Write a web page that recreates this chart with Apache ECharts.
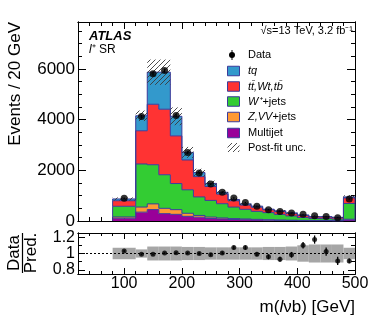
<!DOCTYPE html>
<html><head><meta charset="utf-8">
<script src="https://cdn.jsdelivr.net/npm/echarts@6/dist/echarts.min.js"></script>
<style>html,body{margin:0;padding:0;background:#fff}#c{width:374px;height:316px}</style>
</head><body><div id="c"></div>
<script>
// ---- data ----
const binEdges = [80,120,140,160,180,200,220,240,260,280,300,320,340,360,380,400,420,440,460,480,500];
const multijet = [110,350,450,290,263,184,150,100,80,60,50,40,32,25,20,15,12,12,10,40];
const zvv      = [50,200,225,210,185,120,70,55,40,35,30,25,18,15,12,10,8,8,6,30];
const wjets    = [420,1700,1545,1325,1030,927,730,657,562,454,380,315,280,220,168,115,80,75,60,620];
const ttbar    = [220,1310,2385,2585,1880,1177,800,550,380,250,170,165,113,113,97,80,60,65,58,220];
const tq       = [70,590,1265,1460,772,298,160,120,70,50,46,41,23,30,23,19,14,14,12,40];
const dataVals = [895,4120,5810,5935,4160,2700,1895,1455,1137,910,725,582,447,375,315,263,204,178,133,865];
const dataErr  = [30,64,76,77,64,52,44,38,34,30,27,24,21,19,18,16,14,13,12,29];
const ratioVals= [1.03,0.99,0.99,1.005,1.008,1.005,1.0,0.984,1.005,1.072,1.072,0.99,0.96,0.93,0.984,1.10,1.17,1.024,0.91,0.91];
const ratioErr = [0.012,0.01,0.01,0.01,0.01,0.012,0.014,0.016,0.018,0.022,0.025,0.025,0.03,0.03,0.035,0.04,0.05,0.05,0.05,0.03];
const uncRel   = [0.07,0.05,0.085,0.085,0.085,0.08,0.08,0.075,0.075,0.075,0.075,0.075,0.08,0.08,0.085,0.1,0.11,0.11,0.11,0.07];
const xMajorTicks = [100,200,300,400,500];
const xMinorTicks = [40,60,80,120,140,160,180,220,240,260,280,320,340,360,380,420,440,460,480];
const yMainMajor = [0,2000,4000,6000];
const yMainMinor = [500,1000,1500,2500,3000,3500,4500,5000,5500,6500,7000,7500];
const yRatioMajor = [0.8,1,1.2];
const yRatioMinor = [0.9,1.1];

const comps = [multijet, zvv, wjets, ttbar, tq];
const compNames = ['Multijet','Z,VV+jets','W+jets','tt,Wt,tb','tq'];
const compColors = ['#990099','#ff9933','#33cc33','#ff3333','#3399cc'];
const outlineColor = '#3b3b9a';
const FONT = 'Liberation Sans, Arial, Helvetica, sans-serif';

const nBins = binEdges.length - 1;
const cum = [new Array(nBins).fill(0)];
comps.forEach((c,k)=>{ cum.push(cum[k].map((v,i)=>v + c[i])); });
const total = cum[comps.length];

// hatch pattern
const pc = document.createElement('canvas'); pc.width = 5; pc.height = 5;
const g = pc.getContext('2d'); g.strokeStyle = '#3a3a3a'; g.lineWidth = 0.9;
g.beginPath(); g.moveTo(0,5); g.lineTo(5,0); g.moveTo(-1,1); g.lineTo(1,-1); g.moveTo(4,6); g.lineTo(6,4); g.stroke();
const hatch = {image: pc, repeat: 'repeat'};

function stackItem(k){
  return function(params, api){
    const top=[], bot=[];
    for (let i=0;i<nBins;i++){
      const xa = api.coord([binEdges[i],0])[0], xb = api.coord([binEdges[i+1],0])[0];
      const yt = api.coord([binEdges[i],cum[k+1][i]])[1], yb = api.coord([binEdges[i],cum[k][i]])[1];
      top.push([xa,yt],[xb,yt]); bot.push([xa,yb],[xb,yb]);
    }
    const poly = top.concat(bot.slice().reverse());
    const outline = [bot[0]].concat(top, [bot[bot.length-1]]);
    return {type:'group', children:[
      {type:'polygon', z2:0, shape:{points:poly}, style:{fill:compColors[k], stroke:null}},
      {type:'polyline', z2:10, shape:{points:outline}, style:{fill:null, stroke:outlineColor, lineWidth:1}}
    ]};
  };
}
function rectItem(fillStyle, z2){
  return function(params, api){
    const p0 = api.coord([api.value(0), api.value(3)]);
    const p1 = api.coord([api.value(1), api.value(2)]);
    return {type:'rect', z2:z2, shape:{x:p0[0], y:p0[1], width:p1[0]-p0[0], height:p1[1]-p0[1]}, style:{fill:fillStyle, stroke:null}};
  };
}
function errItem(params, api){
  const a = api.coord([api.value(0), api.value(1)]);
  const b = api.coord([api.value(0), api.value(2)]);
  return {type:'line', z2:30, shape:{x1:a[0], y1:a[1], x2:b[0], y2:b[1]}, style:{stroke:'#000', lineWidth:1.3}};
}

const centers = binEdges.slice(0,-1).map((e,i)=>(e+binEdges[i+1])/2);

function xAx(grid, pos, ticks, len, labels){
  return {type:'value', gridIndex:grid, position:pos, min:20, max:500,
    axisLine:{show:true, onZero:false, lineStyle:{color:'#000', width:1}},
    axisTick:{show:true, inside:true, length:len, customValues:ticks, lineStyle:{color:'#000', width:1}},
    axisLabel:{show:!!labels, customValues:labels||undefined, color:'#000', fontSize:16, fontFamily:FONT, margin:2},
    splitLine:{show:false}};
}
function yAx(grid, pos, min, max, ticks, len, labels, fs){
  return {type:'value', gridIndex:grid, position:pos, min:min, max:max,
    axisLine:{show:true, onZero:false, lineStyle:{color:'#000', width:1}},
    axisTick:{show:true, inside:true, length:len, customValues:ticks, lineStyle:{color:'#000', width:1}},
    axisLabel:{show:!!labels, customValues:labels||undefined, color:'#000', fontSize:fs||16, fontFamily:FONT, margin:3,
      formatter:(v)=>String(v)},
    splitLine:{show:false}};
}

const YMAX = 7850;
const series = [];
comps.forEach((c,k)=>{
  series.push({type:'custom', name:compNames[k], xAxisIndex:0, yAxisIndex:0, renderItem:stackItem(k), data:[[k]], silent:true, animation:false});
});
series.push({type:'custom', name:'Post-fit unc.', xAxisIndex:0, yAxisIndex:0, renderItem:rectItem(hatch, 20),
  data: total.map((t,i)=>[binEdges[i], binEdges[i+1], t*(1-uncRel[i]), t*(1+uncRel[i])]), animation:false});
series.push({type:'custom', name:'DataErr', xAxisIndex:0, yAxisIndex:0, renderItem:errItem,
  data: dataVals.map((d,i)=>[centers[i], d-dataErr[i], d+dataErr[i]]), animation:false});
series.push({type:'scatter', name:'Data', xAxisIndex:0, yAxisIndex:0, symbol:'circle', symbolSize:7, z:5,
  itemStyle:{color:'#000'}, data: dataVals.map((d,i)=>[centers[i], d]), animation:false});
// ratio panel
series.push({type:'custom', name:'band', xAxisIndex:4, yAxisIndex:4, renderItem:rectItem('#a6a6a6', 0),
  data: uncRel.map((u,i)=>[binEdges[i], binEdges[i+1], 1-u, 1+u]), animation:false});
series.push({type:'line', xAxisIndex:4, yAxisIndex:4, data:[[20,1],[500,1]], symbol:'none', z:3,
  lineStyle:{color:'#000', width:1, type:[2,2]}, animation:false});
series.push({type:'custom', xAxisIndex:4, yAxisIndex:4, renderItem:errItem, z:4,
  data: ratioVals.map((r,i)=>[centers[i], r-ratioErr[i], r+ratioErr[i]]), animation:false});
series.push({type:'scatter', xAxisIndex:4, yAxisIndex:4, symbol:'circle', symbolSize:5, z:5,
  itemStyle:{color:'#000'}, data: ratioVals.map((r,i)=>[centers[i], r]), animation:false});

// legend / annotations (graphic)
const legY = [55,71,86.5,101.5,117,133,147.5];
const legX = 227.5, legTX = 248;
const legendRows = [
  {type:'data', text:'Data'},
  {type:'box', color:compColors[4], text:'{i|tq}'},
  {type:'box', color:compColors[3], text:'{i|tt\u0304,Wt,tb\u0304}'},
  {type:'box', color:compColors[2], text:'{i|W\u207A}+jets'},
  {type:'box', color:compColors[1], text:'{i|Z,VV}+jets'},
  {type:'box', color:compColors[0], text:'Multijet'},
  {type:'hatch', text:'Post-fit unc.'}
];
const graphics = [];
const richI = {i:{fontStyle:'italic', fontSize:11, fontFamily:FONT, fill:'#000'}};
legendRows.forEach((r,j)=>{
  const y = legY[j];
  if (r.type==='data'){
    graphics.push({type:'circle', shape:{cx:legX+4.5, cy:y, r:3}, style:{fill:'#000'}, z:100});
    graphics.push({type:'line', shape:{x1:legX+4.5, y1:y-5, x2:legX+4.5, y2:y+5}, style:{stroke:'#000', lineWidth:1}, z:100});
  } else if (r.type==='box'){
    graphics.push({type:'rect', shape:{x:legX, y:y-4.75, width:12, height:9.5}, style:{fill:r.color, stroke:outlineColor, lineWidth:1}, z:100});
  } else {
    graphics.push({type:'rect', shape:{x:legX, y:y-4.5, width:12, height:9}, style:{fill:hatch, stroke:null}, z:100});
  }
  graphics.push({type:'text', x:legTX, y:y, z:100, style:{text:r.text, rich:richI, fontSize:11, fontFamily:FONT, fill:'#000', verticalAlign:'middle', align:'left'}});
});
graphics.push({type:'text', x:89, y:36.5, z:100, style:{text:'ATLAS', fontSize:13, fontWeight:'bold', fontStyle:'italic', fontFamily:FONT, fill:'#000', verticalAlign:'middle'}});
graphics.push({type:'text', x:89, y:50, z:100, style:{text:'{i|l}\u207A SR', rich:{i:{fontStyle:'italic', fontSize:12, fontFamily:FONT}}, fontSize:12, fontFamily:FONT, fill:'#000', verticalAlign:'middle'}});
graphics.push({type:'text', x:353, y:31, z:100, style:{text:'\u221As=13 TeV, 3.2 fb\u207B\u00B9', fontSize:11, fontFamily:FONT, fill:'#000', verticalAlign:'middle', align:'right'}});
graphics.push({type:'text', x:15, y:22, rotation:Math.PI/2, z:100, style:{text:'Events / 20 GeV', fontSize:17, fontFamily:FONT, fill:'#000', verticalAlign:'middle', align:'right'}});
graphics.push({type:'text', x:14, y:253, rotation:Math.PI/2, z:100, style:{text:'Data', fontSize:17, fontFamily:FONT, fill:'#000', verticalAlign:'middle', align:'center'}});
graphics.push({type:'text', x:31, y:253, rotation:Math.PI/2, z:100, style:{text:'Pred.', fontSize:17, fontFamily:FONT, fill:'#000', verticalAlign:'middle', align:'center'}});
graphics.push({type:'line', shape:{x1:22.5, y1:233, x2:22.5, y2:273}, style:{stroke:'#000', lineWidth:1.2}, z:100});
graphics.push({type:'text', x:355, y:307, z:100, style:{text:'m({i|l}\u03BDb) [GeV]', rich:{i:{fontStyle:'italic', fontSize:17, fontFamily:FONT}}, fontSize:17, fontFamily:FONT, fill:'#000', verticalAlign:'middle', align:'right'}});

const option = {
  animation:false,
  backgroundColor:'#fff',
  grid:[{left:78, right:19, top:22, height:199}, {left:78, right:19, top:233, height:41}],
  xAxis:[
    xAx(0,'bottom',xMinorTicks,4), xAx(0,'bottom',xMajorTicks,7), xAx(0,'top',xMinorTicks,4), xAx(0,'top',xMajorTicks,7),
    xAx(1,'bottom',xMajorTicks,6,xMajorTicks), xAx(1,'bottom',xMinorTicks,3), xAx(1,'top',xMajorTicks,6), xAx(1,'top',xMinorTicks,3)
  ],
  yAxis:[
    yAx(0,'left',0,YMAX,yMainMajor,8,yMainMajor,17), yAx(0,'left',0,YMAX,yMainMinor,4), yAx(0,'right',0,YMAX,yMainMajor,8), yAx(0,'right',0,YMAX,yMainMinor,4),
    yAx(1,'left',0.75,1.25,yRatioMajor,7,yRatioMajor,16), yAx(1,'left',0.75,1.25,yRatioMinor,4), yAx(1,'right',0.75,1.25,yRatioMajor,7), yAx(1,'right',0.75,1.25,yRatioMinor,4)
  ],
  series: series,
  graphic: graphics
};
const chart = echarts.init(document.getElementById('c'), null, {renderer:'canvas'});
chart.setOption(option);
</script>
</body></html>
